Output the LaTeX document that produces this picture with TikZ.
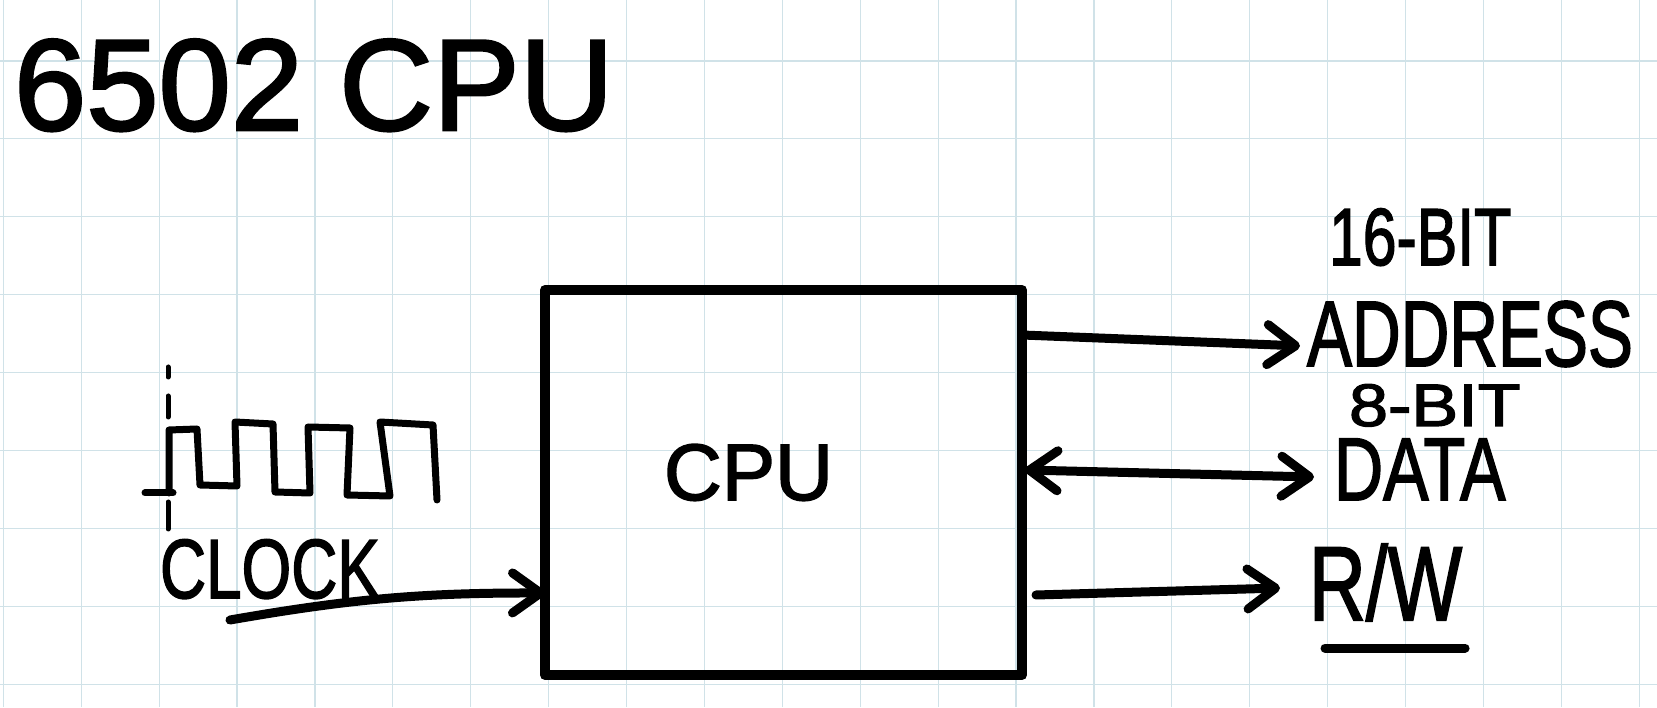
\documentclass[tikz,border=0pt]{standalone}
\usepackage{fontspec}
\usepackage{graphicx}
\setmainfont{Liberation Sans}
\newfontfamily\hand{Liberation Sans}[FakeBold=2]
\usetikzlibrary{arrows.meta}
\definecolor{gridblue}{RGB}{208,226,232}
\tikzset{
  pen/.style={line width=9pt, line cap=round, line join=round},
  thinpen/.style={line width=7pt, line cap=round, line join=round},
  gridline/.style={gridblue, line width=1.2pt},
  handtip/.tip={Straight Barb[round,length=28pt,width=40pt]},
  lbl/.style={inner sep=0pt, outer sep=0pt, anchor=base west},
  box/.style={draw, line width=10pt, line join=round, rectangle, inner sep=0pt, outer sep=0pt},
}
\begin{document}
\begin{tikzpicture}[x=1pt,y=1pt]
\fill[white] (0,0) rectangle (1657,707);
\useasboundingbox (0,0) rectangle (1657,707);
% grid paper
\foreach \i in {0,...,21} \draw[gridline] ({3.3+77.9*\i},0) -- ({3.3+77.9*\i},707);
\foreach \j in {0,...,8} \draw[gridline] (0,{646-77.9*\j}) -- (1657,{646-77.9*\j});

% title
\node[lbl, font=\hand\fontsize{130}{130}\selectfont] (title) at (14,577) {6502 CPU};

% CPU box
\node[box, minimum width=477pt, minimum height=385pt] (cpu) at (783.5,224.5) {};
\node[lbl, font=\hand\fontsize{80}{80}\selectfont] (cpulabel) at (664,207) {CPU};

% right labels
\node[lbl, font=\hand\fontsize{81}{81}\selectfont] (addrbits) at (1329,442) {\scalebox{0.75}[1]{16-BIT}};
\node[lbl, font=\hand\fontsize{93}{93}\selectfont] (addr) at (1307,341) {\scalebox{0.725}[1]{ADDRESS}};
\node[lbl, font=\hand\fontsize{60}{60}\selectfont] (databits) at (1349,281) {\scalebox{1.17}[1]{8-BIT}};
\node[lbl, font=\hand\fontsize{89}{89}\selectfont] (data) at (1334,207) {\scalebox{0.765}[1]{DATA}};
\node[lbl, font=\hand\fontsize{105}{105}\selectfont] (rw) at (1309,87) {\scalebox{0.75}[1]{R/W}};

% clock label
\node[lbl, font=\hand\fontsize{84}{84}\selectfont] (clk) at (160,109) {\scalebox{0.76}[1]{CLOCK}};

% connectors
\draw[pen,-handtip] ([yshift=147.5pt]cpu.east) -- ([xshift=-7pt,yshift=21pt]addr.south west);
\draw[pen,handtip-handtip] ([xshift=3pt,yshift=12.5pt]cpu.east) -- ([xshift=-20pt,yshift=23pt]data.south west);
\draw[pen,-handtip] ([xshift=14pt,yshift=-112.5pt]cpu.east) -- ([xshift=-29pt,yshift=33pt]rw.south west);
\draw[pen] ([xshift=16pt,yshift=-27pt]rw.south west) -- ([xshift=3pt,yshift=-27pt]rw.south east);
\coordinate (clkstart) at (230,87);
\draw[pen,-handtip] (clkstart) to[bend left=5] ([yshift=-110.5pt]cpu.west);

% clock waveform
\draw[line width=5pt, line cap=round] (168,340) -- (168,330);
\draw[line width=5pt, line cap=round] (168,311) -- (168,290);
\draw[line width=5pt, line cap=round] (168,205) -- (168,178);
\draw[thinpen] (145,214) -- (173,214);
\draw[thinpen] (169,214) -- (169,277) -- (197,278) -- (200,222) -- (237,221) -- (235,285)
  -- (273,283) -- (275,215) -- (310,214) -- (308,280) -- (350,279) -- (347,212)
  -- (390,211) -- (380,285) -- (433,282) -- (437,207);
\end{tikzpicture}
\end{document}
